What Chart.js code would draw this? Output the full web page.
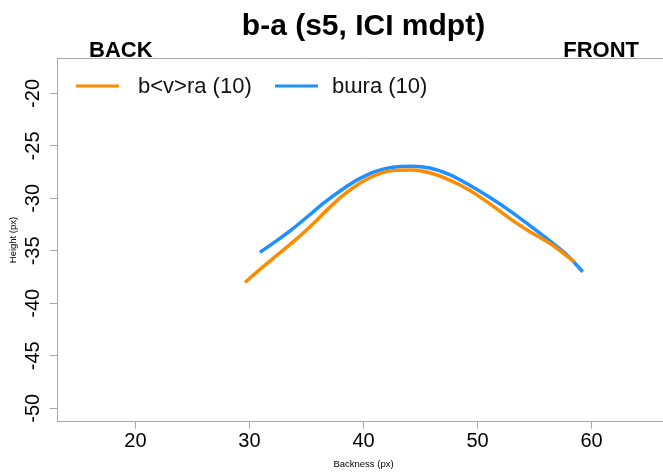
<!DOCTYPE html>
<html><head><meta charset="utf-8">
<script src="https://cdn.jsdelivr.net/npm/chart.js@4"></script>
<style>
html,body{margin:0;padding:0;overflow:hidden;background:#fff;width:663px;height:473px}
#wrap{width:670px;height:473px}
</style></head>
<body><div id="wrap"><canvas id="c" width="670" height="473"></canvas></div>
<script>
const titleText = 'b-a (s5, ICI mdpt)';
const sideLabels = ['BACK', 'FRONT'];
const xTitle = 'Backness (px)';
const yTitle = 'Height (px)';
const seriesNames = ['b<v>ra (10)', 'bɯra (10)'];
const seriesColors = ['#FF8C00', '#1E90FF'];
const xTicks = [20, 30, 40, 50, 60];
const yTicks = [-50, -45, -40, -35, -30, -25, -20];
const xRange = [13.12, 66.88];
const yRange = [-51.28, -16.65];

const orangeX = [29.61, 31.07, 32.52, 33.98, 35.45, 36.90, 38.36, 39.82, 41.28, 42.74, 44.20, 45.81, 47.56, 49.31, 51.06, 52.81, 54.56, 56.31, 58.49];
const orangeY = [-38.01, -36.62, -35.32, -34.00, -32.55, -31.00, -29.58, -28.45, -27.68, -27.33, -27.30, -27.55, -28.25, -29.22, -30.50, -31.90, -33.15, -34.25, -36.03];
const blueX = [30.92, 32.23, 33.70, 35.15, 36.61, 38.07, 39.53, 40.99, 42.45, 44.20, 45.81, 47.56, 49.31, 51.06, 52.81, 54.56, 56.31, 57.78, 59.23];
const blueY = [-35.14, -34.15, -32.98, -31.68, -30.36, -29.20, -28.19, -27.45, -27.05, -26.93, -27.10, -27.74, -28.75, -29.90, -31.16, -32.57, -34.02, -35.32, -36.99];

const FONT = '"Liberation Sans", Arial, sans-serif';
const axisColor = '#a8a8a8';

function pts(xs, ys) { return xs.map((x, i) => ({x: x, y: ys[i]})); }

const deco = {
  id: 'deco',
  afterDraw(chart) {
    const ctx = chart.ctx, a = chart.chartArea;
    ctx.save();
    ctx.strokeStyle = axisColor; ctx.lineWidth = 1;
    ctx.beginPath();
    ctx.moveTo(a.left, Math.round(a.top) + 0.5);
    ctx.lineTo(a.right, Math.round(a.top) + 0.5);
    ctx.stroke();
    ctx.fillStyle = '#000';
    ctx.font = 'bold 22px ' + FONT;
    ctx.textBaseline = 'alphabetic';
    ctx.textAlign = 'left';
    ctx.fillText(sideLabels[0], 89, 56.5);
    ctx.textAlign = 'right';
    ctx.fillText(sideLabels[1], 639, 56.5);
    const lineX = [76, 275], textX = [138, 332], ly = 86;
    ctx.font = '22px ' + FONT;
    ctx.textAlign = 'left';
    ctx.textBaseline = 'middle';
    seriesNames.forEach((n, i) => {
      ctx.strokeStyle = seriesColors[i]; ctx.lineWidth = 3;
      ctx.beginPath(); ctx.moveTo(lineX[i], ly); ctx.lineTo(lineX[i] + 43, ly); ctx.stroke();
      ctx.fillStyle = '#111';
      ctx.fillText(n, textX[i], ly + 1);
    });
    ctx.restore();
  }
};

new Chart(document.getElementById('c'), {
  type: 'line',
  data: {
    datasets: [
      {label: seriesNames[0], data: pts(orangeX, orangeY), borderColor: seriesColors[0], backgroundColor: seriesColors[0], borderWidth: 3.5, pointRadius: 0, cubicInterpolationMode: 'monotone', fill: false},
      {label: seriesNames[1], data: pts(blueX, blueY), borderColor: seriesColors[1], backgroundColor: seriesColors[1], borderWidth: 3.5, pointRadius: 0, cubicInterpolationMode: 'monotone', fill: false}
    ]
  },
  options: {
    responsive: false,
    animation: false,
    layout: {padding: 0},
    plugins: {
      legend: {display: false},
      tooltip: {enabled: false},
      title: {
        display: true, text: titleText, fullSize: false,
        font: {family: FONT, size: 30, weight: 'bold'}, color: '#000',
        padding: {top: 9, bottom: 13.3}
      }
    },
    scales: {
      x: {
        type: 'linear', min: xRange[0], max: xRange[1],
        afterBuildTicks: s => { s.ticks = xTicks.map(v => ({value: v})); },
        afterFit: s => { s.height = 51.3; },
        grid: {display: true, drawOnChartArea: false, drawTicks: true, tickLength: 7, color: axisColor},
        border: {display: true, color: axisColor, width: 1},
        ticks: {font: {family: FONT, size: 20}, color: '#000', padding: 1, maxRotation: 0, autoSkip: false, includeBounds: false},
        title: {display: true, text: xTitle, font: {family: FONT, size: 9.5}, color: '#000', padding: {top: 3.3, bottom: 3.3}}
      },
      y: {
        type: 'linear', min: yRange[0], max: yRange[1],
        afterBuildTicks: s => { s.ticks = yTicks.map(v => ({value: v})); },
        afterFit: s => { s.width = 57; },
        grid: {display: true, drawOnChartArea: false, drawTicks: true, tickLength: 7, color: axisColor},
        border: {display: true, color: axisColor, width: 1},
        ticks: {font: {family: FONT, size: 20}, color: '#000', padding: 2, minRotation: 90, maxRotation: 90, crossAlign: 'center', autoSkip: false, includeBounds: false},
        title: {display: true, text: yTitle, font: {family: FONT, size: 9.5}, color: '#000', padding: {top: 7.6, bottom: 7.6}}
      }
    }
  },
  plugins: [deco]
});
</script>
</body></html>
